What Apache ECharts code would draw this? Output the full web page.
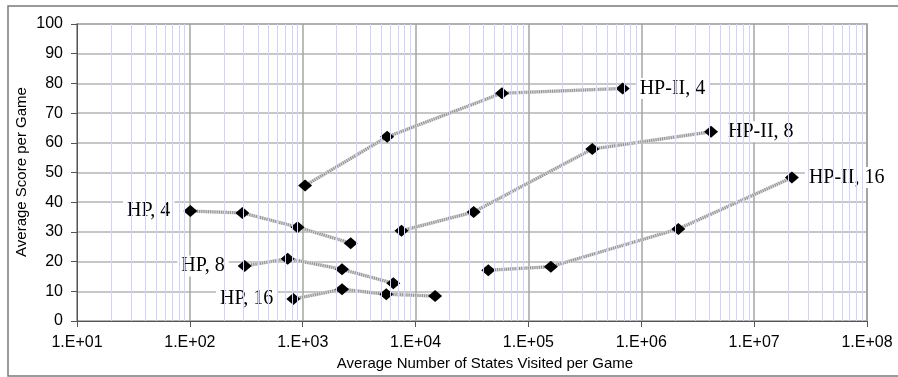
<!DOCTYPE html>
<html>
<head>
<meta charset="utf-8">
<script src="https://cdn.jsdelivr.net/npm/echarts@6/dist/echarts.min.js"></script>
<style>
  html, body { margin: 0; padding: 0; background: #fff; }
  #chart { width: 898px; height: 377px; }
</style>
</head>
<body>
<div id="chart"></div>
<script>
// States visited (x, log scale) and average score (y) for each search variant
const hp4X = [101, 292, 900, 2660];
const hp4Y = [37.0, 36.4, 31.6, 26.2];
const hp8X = [306, 736, 2230, 6350];
const hp8Y = [18.5, 21.0, 17.4, 12.7];
const hp16X = [826, 2230, 5500, 14900];
const hp16Y = [7.4, 10.7, 9.0, 8.4];
const hp2x4X = [1050, 5600, 58300, 684000];
const hp2x4Y = [45.6, 62.0, 76.7, 78.3];
const hp2x8X = [7500, 32700, 368000, 4150000];
const hp2x8Y = [30.4, 36.7, 57.9, 63.7];
const hp2x16X = [44100, 158000, 2130000, 21600000];
const hp2x16Y = [17.1, 18.3, 31.0, 48.3];

const seriesNames = ['HP, 4', 'HP, 8', 'HP, 16', 'HP-II, 4', 'HP-II, 8', 'HP-II, 16'];
const xTickLabels = ['1.E+01', '1.E+02', '1.E+03', '1.E+04', '1.E+05', '1.E+06', '1.E+07', '1.E+08'];
const yTicks = [0, 10, 20, 30, 40, 50, 60, 70, 80, 90, 100];

const groups = [
  { name: seriesNames[0], xs: hp4X, ys: hp4Y, labelAt: 'first' },
  { name: seriesNames[1], xs: hp8X, ys: hp8Y, labelAt: 'first' },
  { name: seriesNames[2], xs: hp16X, ys: hp16Y, labelAt: 'first' },
  { name: seriesNames[3], xs: hp2x4X, ys: hp2x4Y, labelAt: 'last' },
  { name: seriesNames[4], xs: hp2x8X, ys: hp2x8Y, labelAt: 'last' },
  { name: seriesNames[5], xs: hp2x16X, ys: hp2x16Y, labelAt: 'last' }
];

// minor log gridlines at 2..9 x 10^k
const minorGrid = [];
for (let k = 1; k < 8; k++) {
  for (let m = 2; m <= 9; m++) minorGrid.push({ xAxis: m * Math.pow(10, k) });
}

const labelStyle = {
  fontFamily: '"Liberation Serif", "Times New Roman", serif',
  fontSize: 20,
  color: '#000',
  opacity: 1,
  backgroundColor: '#fff',
  padding: [1, 4, 0, 4]
};

const series = [{
  type: 'line',
  data: [],
  z: -1,
  silent: true,
  markLine: {
    silent: true,
    symbol: 'none',
    animation: false,
    label: { show: false },
    lineStyle: { color: '#d2d2ff', width: 1, type: 'solid', opacity: 1 },
    data: minorGrid
  }
}];

groups.forEach(g => {
  const pts = g.xs.map((x, i) => [x, g.ys[i]]);
  series.push({
    type: 'line', data: pts, showSymbol: false, silent: true, z: 2,
    lineStyle: { color: '#d6d6d6', width: 3.5 }
  });
  series.push({
    type: 'line', data: pts, showSymbol: false, silent: true, z: 3,
    lineStyle: { color: '#8e8e8e', width: 3, type: [1, 1.2] }
  });
  const li = g.labelAt === 'first' ? 0 : pts.length - 1;
  series.push({
    type: 'scatter', z: 4,
    symbol: 'diamond', symbolSize: [14, 12],
    itemStyle: { color: '#000', opacity: 1 },
    data: pts.map((p, i) => i === li ? {
      value: p,
      label: Object.assign({
        show: true,
        position: g.labelAt === 'first' ? 'left' : 'right',
        distance: g.labelAt === 'first' ? 9 : 6,
        formatter: g.name
      }, labelStyle)
    } : { value: p })
  });
});

const chart = echarts.init(document.getElementById('chart'), null, { renderer: 'canvas' });
chart.setOption({
  animation: false,
  backgroundColor: '#fff',
  grid: { left: 77, top: 24, right: 31, bottom: 56, show: true, borderColor: '#8a8a8a', borderWidth: 1.5 },
  xAxis: {
    type: 'log', logBase: 10, min: 10, max: 1e8,
    axisLine: { show: true, onZero: false, lineStyle: { color: '#555', width: 1 } },
    axisTick: { show: true, length: 6, lineStyle: { color: '#555' } },
    splitLine: { show: true, lineStyle: { color: '#a4a4a4', width: 1.5 } },
    axisLabel: {
      margin: 14,
      fontFamily: '"Liberation Sans", Arial, sans-serif',
      fontSize: 16, color: '#000',
      formatter: v => xTickLabels[Math.round(Math.log10(v)) - 1]
    }
  },
  yAxis: {
    type: 'value', min: yTicks[0], max: yTicks[yTicks.length - 1], interval: 10,
    axisLine: { show: true, lineStyle: { color: '#555', width: 1 } },
    axisTick: { show: true, length: 6, lineStyle: { color: '#555' } },
    splitLine: { show: true, lineStyle: { color: '#b4b4b4', width: 1.5 } },
    axisLabel: {
      margin: 14,
      fontFamily: '"Liberation Sans", Arial, sans-serif',
      fontSize: 16, color: '#000'
    }
  },
  graphic: [
    {
      type: 'rect', silent: true, z: -10,
      shape: { x: 8, y: 6, width: 905, height: 370 },
      style: { fill: 'none', stroke: '#7a7a7a', lineWidth: 1.5 }
    },
    {
      type: 'text', silent: true,
      x: 485, y: 364,
      style: {
        text: 'Average Number of States Visited per Game',
        font: '15px "Liberation Sans", Arial, sans-serif',
        fill: '#000', align: 'center', verticalAlign: 'middle'
      }
    },
    {
      type: 'text', silent: true,
      x: 22, y: 172, rotation: Math.PI / 2,
      style: {
        text: 'Average Score per Game',
        font: '15px "Liberation Sans", Arial, sans-serif',
        fill: '#000', align: 'center', verticalAlign: 'middle'
      }
    }
  ],
  series: series
});
</script>
</body>
</html>
